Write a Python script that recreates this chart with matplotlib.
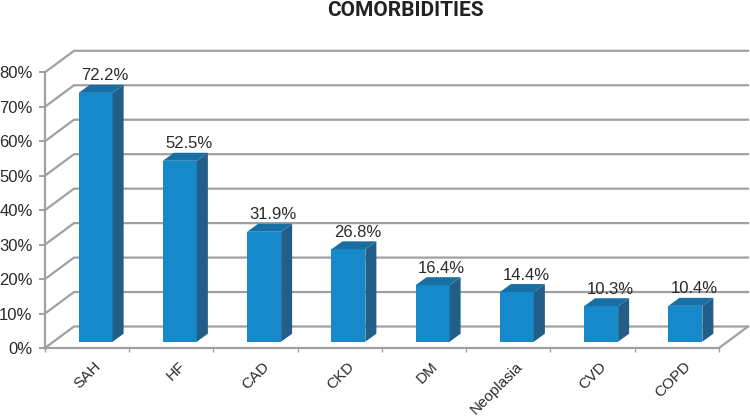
import matplotlib
matplotlib.use("Agg")
import matplotlib.pyplot as plt

categories = ["SAH", "HF", "CAD", "CKD", "DM", "Neoplasia", "CVD", "COPD"]
values = [72.2, 52.5, 31.9, 26.8, 16.4, 14.4, 10.3, 10.4]
y_ticks = [0, 10, 20, 30, 40, 50, 60, 70, 80]
y_labels = ["0%", "10%", "20%", "30%", "40%", "50%", "60%", "70%", "80%"]
title = "COMORBIDITIES"

GRID = "#A0A0A0"
FRONT = "#1589C9"
TOP = "#186FA3"
SIDE = "#225E88"
TEXT = "#2A2A2A"

W, H = 750, 416
plt.rcParams["font.family"] = ["Liberation Sans", "DejaVu Sans"]
fig = plt.figure(figsize=(W / 100, H / 100), dpi=100)
L, R, T, B = 45, 719, 72.3, 348
ax = fig.add_axes([L / W, 1 - B / H, (R - L) / W, (B - T) / H])
ax.set_xlim(0, len(categories))
ax.set_ylim(0, 80)

px_x = (R - L) / len(categories)   # pixels per category
px_y = (B - T) / 80                # pixels per percent
wall_dx, wall_dy = 29 / px_x, 21.5 / px_y
bar_dx, bar_dy = 11 / px_x, 8 / px_y
base_dx, base_dy = 8.5 / px_x, 6.3 / px_y
bar_w = 34 / px_x

# back wall and left wall lines
for v in y_ticks:
    ax.plot([0, wall_dx, len(categories) + wall_dx],
            [v, v + wall_dy, v + wall_dy], color=GRID, lw=1.6, clip_on=False, zorder=1,
            solid_joinstyle="miter")
ax.plot([len(categories), len(categories) + wall_dx], [0, wall_dy], color=GRID, lw=1.6,
        clip_on=False, zorder=1)

# bars
for i, (name, v) in enumerate(zip(categories, values)):
    x0 = i + 0.5 + base_dx - bar_w / 2
    x1 = x0 + bar_w
    y0 = base_dy
    y1 = base_dy + v
    ax.bar(x0, v, width=bar_w, bottom=y0, align="edge", color=FRONT, zorder=3, clip_on=False)
    ax.fill([x1, x1 + bar_dx, x1 + bar_dx, x1], [y0, y0 + bar_dy, y1 + bar_dy, y1],
            color=SIDE, lw=0, zorder=3, clip_on=False)
    ax.fill([x0, x1, x1 + bar_dx, x0 + bar_dx], [y1, y1, y1 + bar_dy, y1 + bar_dy],
            color=TOP, lw=0, zorder=3, clip_on=False)
    ax.annotate(f"{v:.1f}%", (x0 + (bar_w + bar_dx) / 2, y1 + bar_dy), xytext=(2.5, 1),
                textcoords="offset points", ha="center", va="bottom", fontsize=12,
                color=TEXT, zorder=4, annotation_clip=False)

for s in ("top", "right"):
    ax.spines[s].set_visible(False)
for s in ("left", "bottom"):
    ax.spines[s].set_color(GRID)
    ax.spines[s].set_linewidth(1.6)
    ax.spines[s].set_zorder(2)
ax.set_facecolor("none")
ax.set_yticks(y_ticks, y_labels, fontsize=12, color=TEXT)
ax.set_xticks(range(len(categories) + 1), [""] * (len(categories) + 1))
ax.tick_params(axis="y", length=4, width=1.4, color=GRID, pad=5)
ax.tick_params(axis="x", length=3, width=1, color=GRID)
ax.set_xticks([i + 0.5 + 7 / px_x for i in range(len(categories))], categories, minor=True,
              rotation=45, ha="right", rotation_mode="anchor", fontsize=11, color=TEXT)
ax.tick_params(axis="x", which="minor", length=0, pad=8)

fig.text(405 / W, 1 - 10 / H, title, ha="center", va="center", fontsize=15, fontweight="bold",
         family=["Roboto", "Liberation Sans"], color="#222222")
fig.savefig("out.png", dpi=100)
